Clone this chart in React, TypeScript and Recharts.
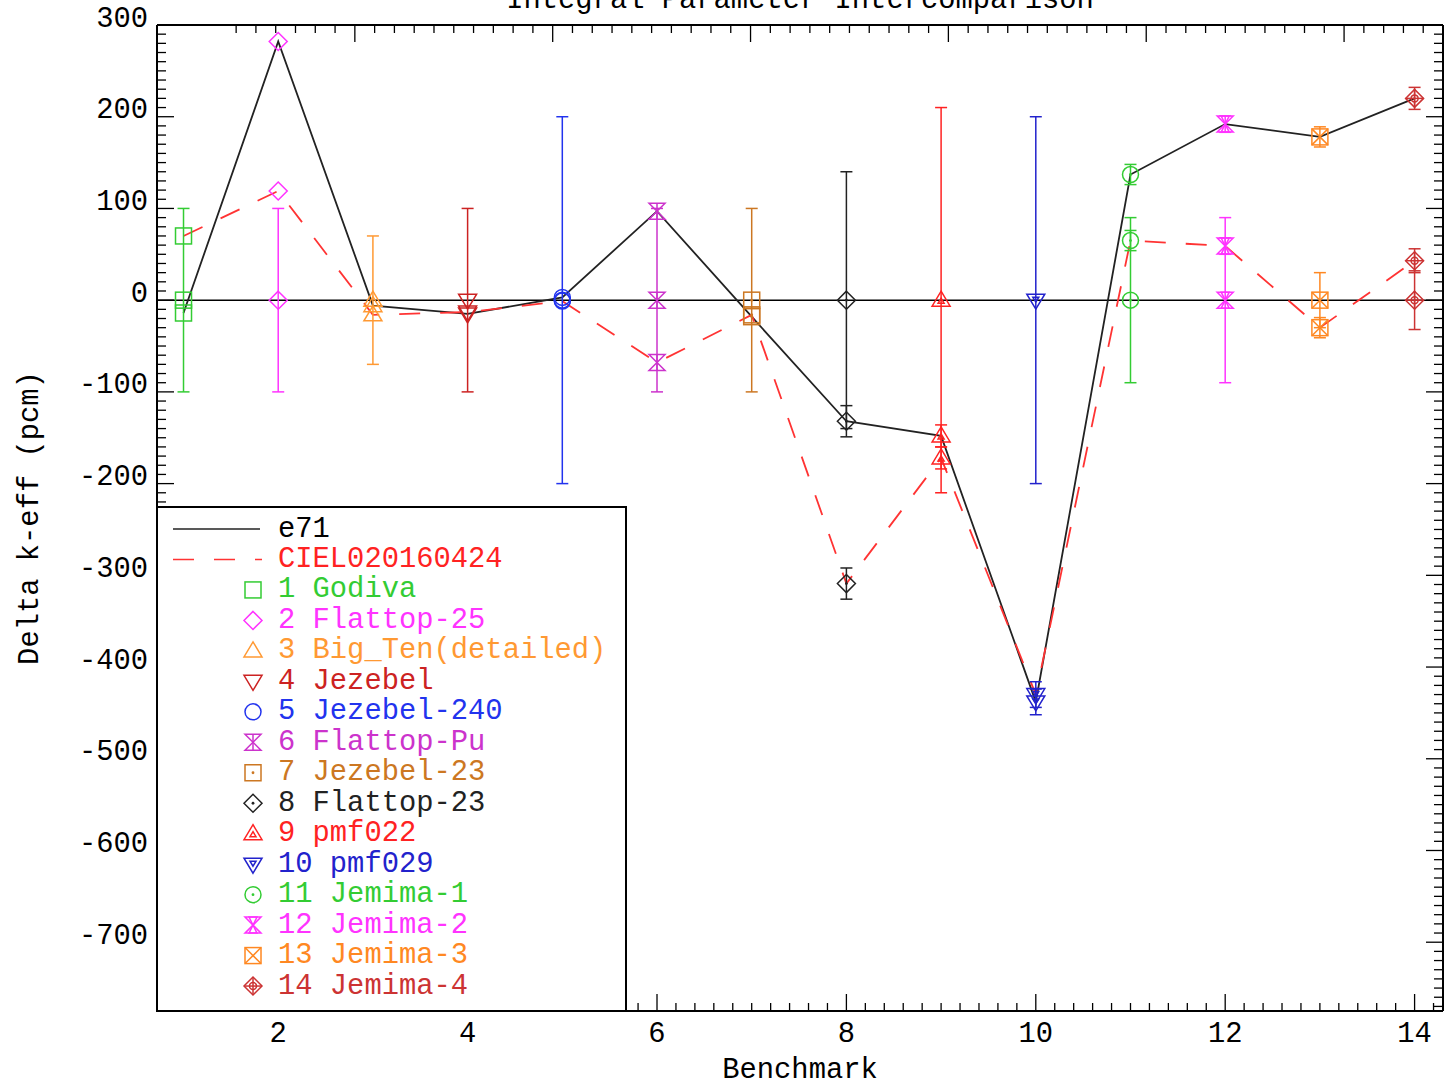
import React from 'react';
import { ComposedChart, Line, Scatter, XAxis, YAxis, ErrorBar, ReferenceLine, Legend } from 'recharts';

const FONT = '"Liberation Mono", "DejaVu Sans Mono", monospace';
const FS = 28.8;
const TITLE = 'Integral Parameter Intercomparison';

// benchmark names, in plot order 1..14
const benchmarks = [
  'Godiva', 'Flattop-25', 'Big_Ten(detailed)', 'Jezebel', 'Jezebel-240', 'Flattop-Pu', 'Jezebel-23',
  'Flattop-23', 'pmf022', 'pmf029', 'Jemima-1', 'Jemima-2', 'Jemima-3', 'Jemima-4',
];
// delta k-eff (pcm)
const e71 = [-14, 282, -6, -15, 3, 97, -18, -132, -148, -438, 137, 192, 178, 220];
const ciel = [70, 119, -16, -13, -1, -68, -16, -309, -172, -430, 65, 59, -30, 43];
// experimental uncertainty (pcm), drawn around 0
const expUnc = [100, 100, 70, 100, 200, 100, 100, 140, 210, 200, 90, 90, 30, 32];
// statistical uncertainty of the calculations
const e71Unc = [0, 0, 0, 0, 0, 0, 0, 17, 12, 14, 11, 9, 11, 12];
const cielUnc = [0, 0, 0, 0, 0, 0, 0, 17, 12, 14, 11, 9, 11, 13];

const colors = [
  '#33cc33', '#ff33ff', '#ff9933', '#cc2222', '#2233ee', '#cc33cc', '#cc7722',
  '#222222', '#ff2222', '#2222cc', '#33cc33', '#ff33ff', '#ff8822', '#cc3333',
];
const symbols = [
  'square', 'diamond', 'triUp', 'triDown', 'circle', 'hourglass', 'squareDot',
  'diamondDot', 'triUpDot', 'triDownDot', 'circleDot', 'hourglassBar', 'squareX', 'diamondCross',
];

const xMajorTicks = [2, 4, 6, 8, 10, 12, 14];
const yMajorTicks = [-700, -600, -500, -400, -300, -200, -100, 0, 100, 200, 300];

const X_DOMAIN: [number, number] = [0.72, 14.3];
const Y_DOMAIN: [number, number] = [-775, 300];

// minor ticks every 0.2 on x and every 10 on y
const xTicks: number[] = [];
for (let i = 4; i <= 71; i++) xTicks.push(Math.round(i * 2) / 10);
const yTicks: number[] = [];
for (let v = -770; v <= 300; v += 10) yTicks.push(v);

const lineRows = benchmarks.map((_, i) => ({ x: i + 1, e71: e71[i], ciel: ciel[i] }));
const pointSets = benchmarks.map((_, i) => [
  { x: i + 1, y: 0, err: expUnc[i] },
  { x: i + 1, y: e71[i], err: e71Unc[i] },
  { x: i + 1, y: ciel[i], err: cielUnc[i] },
]);

const isMajorX = (v: number) => xMajorTicks.some((t) => Math.abs(t - v) < 1e-6);
const isMajorY = (v: number) => yMajorTicks.some((t) => Math.abs(t - v) < 1e-6);

function Marker({ kind, cx, cy, color }: { kind: string; cx: number; cy: number; color: string }) {
  const r = 8;
  const st = { fill: 'none', stroke: color, strokeWidth: 1.5 };
  const dot = <circle cx={cx} cy={cy} r={1.4} fill={color} />;
  const sq = <rect x={cx - r} y={cy - r} width={2 * r} height={2 * r} {...st} />;
  const dia = <polygon points={`${cx},${cy - r - 1} ${cx + r + 1},${cy} ${cx},${cy + r + 1} ${cx - r - 1},${cy}`} {...st} />;
  const up = <polygon points={`${cx},${cy - 9} ${cx + 9},${cy + 6} ${cx - 9},${cy + 6}`} {...st} />;
  const down = <polygon points={`${cx},${cy + 9} ${cx + 9},${cy - 6} ${cx - 9},${cy - 6}`} {...st} />;
  const circ = <circle cx={cx} cy={cy} r={r} {...st} />;
  const hour = <polygon points={`${cx - r},${cy - r} ${cx + r},${cy - r} ${cx - r},${cy + r} ${cx + r},${cy + r}`} {...st} />;
  switch (kind) {
    case 'square': return sq;
    case 'diamond': return dia;
    case 'triUp': return up;
    case 'triDown': return down;
    case 'circle': return circ;
    case 'hourglass':
      return <g>{hour}<line x1={cx} y1={cy - r} x2={cx} y2={cy + r} {...st} /></g>;
    case 'squareDot': return <g>{sq}{dot}</g>;
    case 'diamondDot': return <g>{dia}{dot}</g>;
    case 'triUpDot':
      return <g>{up}<polygon points={`${cx},${cy - 2} ${cx + 3},${cy + 3} ${cx - 3},${cy + 3}`} {...st} /></g>;
    case 'triDownDot':
      return <g>{down}<polygon points={`${cx},${cy + 2} ${cx + 3},${cy - 3} ${cx - 3},${cy - 3}`} {...st} /></g>;
    case 'circleDot': return <g>{circ}{dot}</g>;
    case 'hourglassBar':
      return (
        <g>
          {hour}
          <polygon points={`${cx - 4},${cy - r} ${cx + 4},${cy - r} ${cx - 4},${cy + r} ${cx + 4},${cy + r}`} {...st} />
        </g>
      );
    case 'squareX':
      return (
        <g>
          {sq}
          <line x1={cx - r} y1={cy - r} x2={cx + r} y2={cy + r} {...st} />
          <line x1={cx + r} y1={cy - r} x2={cx - r} y2={cy + r} {...st} />
        </g>
      );
    case 'diamondCross':
      return (
        <g>
          {dia}
          <circle cx={cx} cy={cy} r={3.5} {...st} />
          <line x1={cx - r - 1} y1={cy} x2={cx + r + 1} y2={cy} {...st} />
          <line x1={cx} y1={cy - r - 1} x2={cx} y2={cy + r + 1} {...st} />
        </g>
      );
    default:
      return circ;
  }
}

// all four frame sides carry inward ticks, IDL style
const BottomTick = (props: any) => {
  const { x, y, payload } = props;
  const major = isMajorX(payload.value);
  return (
    <g>
      <line x1={x} y1={y} x2={x} y2={y - (major ? 17 : 8)} stroke="#000" strokeWidth={1.3} />
      {major && (
        <text x={x} y={y + 23} textAnchor="middle" dominantBaseline="central" fontFamily={FONT} fontSize={FS} fill="#000">
          {payload.value}
        </text>
      )}
    </g>
  );
};

const TopTick = (props: any) => {
  const { x, y, payload } = props;
  const major = isMajorX(payload.value);
  return <line x1={x} y1={y} x2={x} y2={y + (major ? 17 : 8)} stroke="#000" strokeWidth={1.3} />;
};

const LeftTick = (props: any) => {
  const { x, y, payload } = props;
  const major = isMajorY(payload.value);
  return (
    <g>
      <line x1={x} y1={y} x2={x + (major ? 17 : 9)} y2={y} stroke="#000" strokeWidth={1.3} />
      {major && (
        <text x={x - 9} y={y - 6} textAnchor="end" dominantBaseline="central" fontFamily={FONT} fontSize={FS} fill="#000">
          {payload.value}
        </text>
      )}
    </g>
  );
};

const RightTick = (props: any) => {
  const { x, y, payload } = props;
  const major = isMajorY(payload.value);
  return <line x1={x} y1={y} x2={x - (major ? 17 : 9)} y2={y} stroke="#000" strokeWidth={1.3} />;
};

// legend box sits over the lower left of the plot
const LEG_LEFT = 156;
const LEG_TOP = 506;
const LEG_W = 471;
const LEG_H = 506;

function LegendBox() {
  const rowY = (i: number) => 529 + i * 30.47 - LEG_TOP;
  const tx = 278 - LEG_LEFT;
  const sx = 253 - LEG_LEFT;
  const textProps = { fontFamily: FONT, fontSize: FS, dominantBaseline: 'central' as const };
  return (
    <svg width={LEG_W} height={LEG_H} style={{ display: 'block' }}>
      <rect x={1} y={1} width={LEG_W - 2} height={LEG_H - 2} fill="#fff" stroke="#000" strokeWidth={2} />
      <line x1={173 - LEG_LEFT} y1={rowY(0)} x2={260 - LEG_LEFT} y2={rowY(0)} stroke="#222" strokeWidth={1.6} />
      <text x={tx} y={rowY(0)} fill="#000" {...textProps}>e71</text>
      <line x1={173 - LEG_LEFT} y1={rowY(1)} x2={262 - LEG_LEFT} y2={rowY(1)} stroke="#ff3333" strokeWidth={1.6} strokeDasharray="21 20" />
      <text x={tx} y={rowY(1)} fill="#ff2222" {...textProps}>CIEL020160424</text>
      {benchmarks.map((name, i) => (
        <g key={name}>
          <Marker kind={symbols[i]} cx={sx} cy={rowY(i + 2)} color={colors[i]} />
          <text x={tx} y={rowY(i + 2)} fill={colors[i]} {...textProps}>{`${i + 1} ${name}`}</text>
        </g>
      ))}
    </svg>
  );
}

export default function App() {
  return (
    <div style={{ position: 'absolute', left: 0, top: 0, background: '#fff' }}>
      <ComposedChart width={1445} height={1086} data={lineRows} margin={{ top: 24, right: 1, bottom: 0, left: 0 }}>
        <XAxis
          xAxisId={0}
          dataKey="x"
          type="number"
          domain={X_DOMAIN}
          allowDataOverflow
          ticks={xTicks}
          interval={0}
          height={75}
          tickSize={0}
          tickMargin={0}
          tickLine={false}
          axisLine={{ stroke: '#000', strokeWidth: 2 }}
          tick={<BottomTick />}
          label={{ value: 'Benchmark', position: 'insideBottom', offset: 8, fontFamily: FONT, fontSize: FS, fill: '#000' }}
        />
        <XAxis
          xAxisId="top"
          orientation="top"
          type="number"
          domain={X_DOMAIN}
          allowDataOverflow
          ticks={xTicks}
          interval={0}
          height={1}
          tickSize={0}
          tickMargin={0}
          tickLine={false}
          axisLine={{ stroke: '#000', strokeWidth: 2 }}
          tick={<TopTick />}
          label={{ value: TITLE, position: 'top', offset: 16, fontFamily: FONT, fontSize: FS, fill: '#000' }}
        />
        <YAxis
          yAxisId={0}
          type="number"
          domain={Y_DOMAIN}
          allowDataOverflow
          ticks={yTicks}
          interval={0}
          width={157}
          tickSize={0}
          tickMargin={0}
          tickLine={false}
          axisLine={{ stroke: '#000', strokeWidth: 2 }}
          tick={<LeftTick />}
          label={{
            value: 'Delta k-eff (pcm)',
            angle: -90,
            position: 'insideLeft',
            offset: 28,
            fontFamily: FONT,
            fontSize: FS,
            fill: '#000',
            style: { textAnchor: 'middle' },
          }}
        />
        <YAxis
          yAxisId="right"
          orientation="right"
          type="number"
          domain={Y_DOMAIN}
          allowDataOverflow
          ticks={yTicks}
          interval={0}
          width={1}
          tickSize={0}
          tickMargin={0}
          tickLine={false}
          axisLine={{ stroke: '#000', strokeWidth: 2 }}
          tick={<RightTick />}
        />
        <ReferenceLine y={0} stroke="#000" strokeWidth={1.5} />
        <Line
          dataKey="e71"
          stroke="#222"
          strokeWidth={1.8}
          dot={false}
          activeDot={false}
          isAnimationActive={false}
        />
        <Line
          dataKey="ciel"
          stroke="#ff3333"
          strokeWidth={1.8}
          strokeDasharray="21 20"
          dot={false}
          activeDot={false}
          isAnimationActive={false}
        />
        {pointSets.map((pts, i) => (
          <Scatter
            key={benchmarks[i]}
            name={benchmarks[i]}
            data={pts}
            dataKey="y"
            isAnimationActive={false}
            shape={(p: any) => <Marker kind={symbols[i]} cx={p.cx} cy={p.cy} color={colors[i]} />}
          >
            <ErrorBar dataKey="err" direction="y" width={6} stroke={colors[i]} strokeWidth={1.5} isAnimationActive={false} />
          </Scatter>
        ))}
        <Legend
          layout="vertical"
          align="center"
          verticalAlign="middle"
          wrapperStyle={{ left: LEG_LEFT, top: LEG_TOP, width: LEG_W, height: LEG_H }}
          content={() => <LegendBox />}
        />
      </ComposedChart>
    </div>
  );
}
